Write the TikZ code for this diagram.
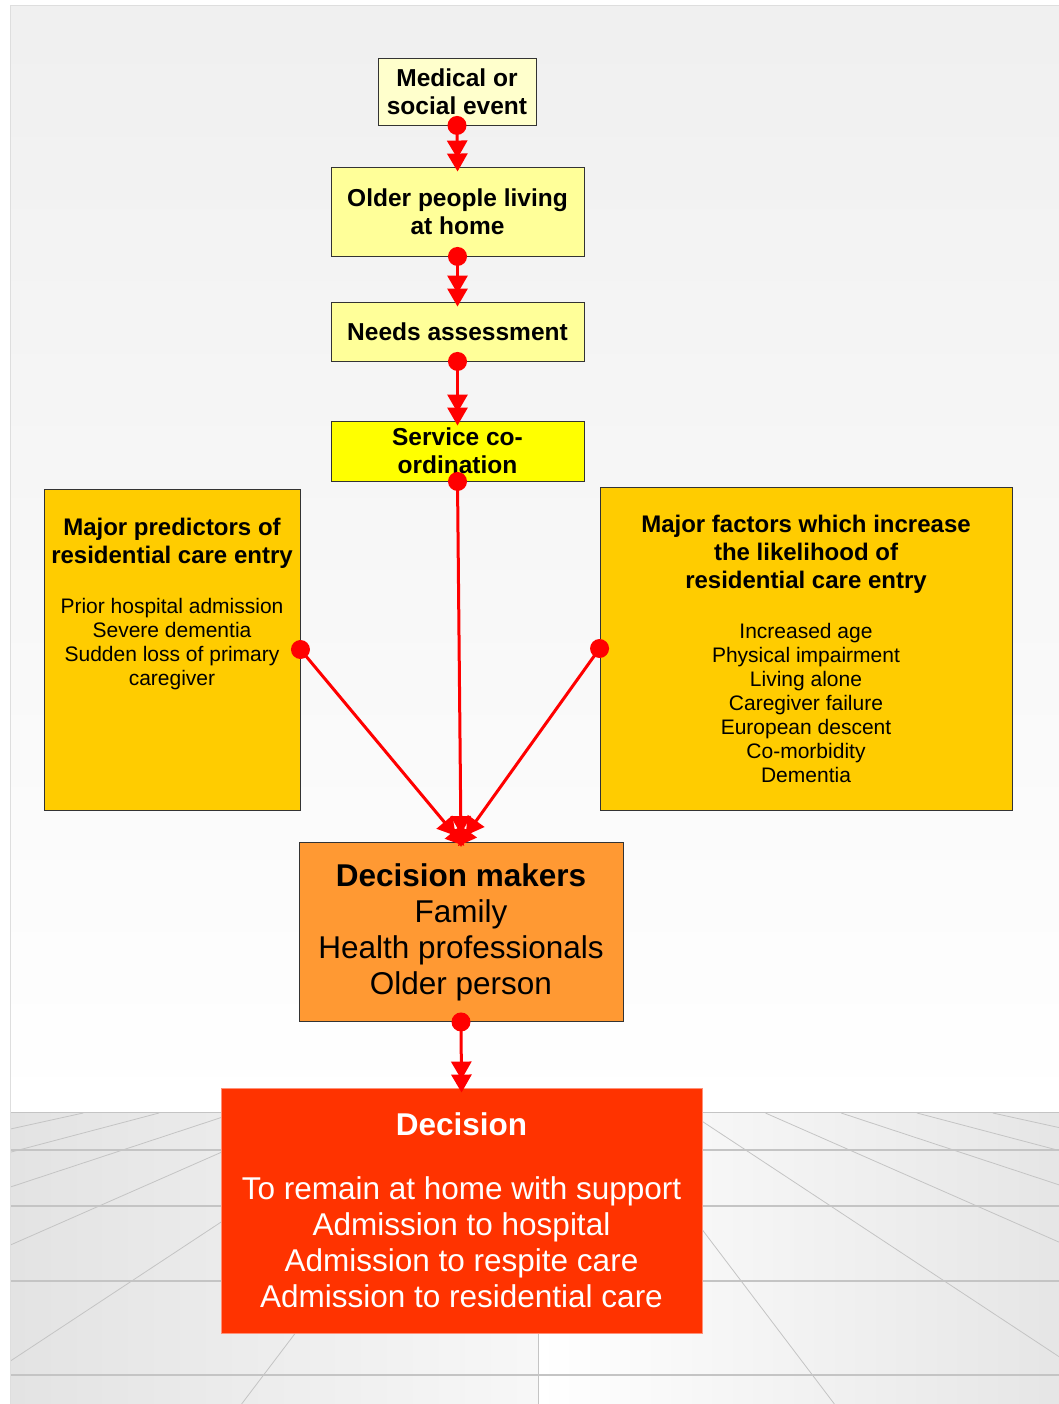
\documentclass[tikz,border=0pt]{standalone}
\usepackage{fontspec}
\setmainfont{Liberation Sans}
\usetikzlibrary{arrows.meta}
\definecolor{cream}{HTML}{FFFFCC}
\definecolor{paleyellow}{HTML}{FFFF99}
\definecolor{brightyellow}{HTML}{FFFF00}
\definecolor{gold}{HTML}{FFCC00}
\definecolor{tangerine}{HTML}{FF9933}
\definecolor{vermilion}{HTML}{FF3300}
\definecolor{salmonedge}{HTML}{FF9078}
\definecolor{linkred}{HTML}{FF0000}
\definecolor{gridgrey}{HTML}{C4C4C4}
% font size switch that also restores the font's own interword space
\newcommand{\boxfont}[2]{\fontsize{#1}{#2}\selectfont\spaceskip=0pt\xspaceskip=0pt\relax}
\begin{document}
\begin{tikzpicture}[x=1pt,y=-1pt,
  box/.style={draw=black!80, line width=0.9pt, inner sep=0pt, align=center, text=black},
  headfont/.style={font=\fontsize{24.5}{28}\selectfont\bfseries},
  bigfont/.style={font=\fontsize{31.5}{36}\selectfont},
  link/.style={draw=linkred, line width=3pt,
    -{Triangle[length=18pt,width=20pt,sep=-5pt] Triangle[length=18pt,width=20pt,sep=-5pt]}},
  dot/.style={fill=linkred},
  gridline/.style={draw=gridgrey, line width=0.8pt},
  floorline/.style={draw=gridgrey, line width=1.6pt}]
\useasboundingbox (0,0) rectangle (1059,1404);

% back wall
\shade[top color=black!6, bottom color=white] (10,6) rectangle (1059,1112);
% floor with perspective grid
\shade[left color=black!11, right color=black!3] (10,1112) rectangle (538,1404);
\shade[left color=white, right color=black!10] (538,1112) rectangle (1059,1404);
\begin{scope}
  \clip (10,1112) rectangle (1059,1404);
  \foreach \k in {-7,...,7}
    \draw[gridline] (538+\k*75.8,1113) -- (538+\k*296.4,1404);
  \foreach \yy in {1150,1206,1281,1375}
    \draw[floorline] (10,\yy) -- (1059,\yy);
\end{scope}
\draw[floorline] (10,1112.5) -- (1059,1112.5);
\draw[black!13, line width=1pt] (10,1404) -- (10,6) -- (1059,6);

% flow boxes
\node[box, fill=cream, headfont, minimum width=158pt, minimum height=67pt] (med) at (457,91.5)
  {Medical or\\social event};
\node[box, fill=paleyellow, headfont, minimum width=253pt, minimum height=89pt] (old) at (457.5,211.5)
  {Older people living\\at home};
\node[box, fill=paleyellow, headfont, minimum width=253pt, minimum height=59pt] (needs) at (457.5,331.5)
  {Needs assessment};
\node[box, fill=brightyellow, headfont, minimum width=253pt, minimum height=60pt] (serv) at (457.5,451)
  {Service co-\\ordination};

% factor boxes
\node[box, fill=gold, minimum width=256pt, minimum height=321pt] (pred) at (172,649.5) {};
\node[anchor=north, text width=256pt, align=flush center, inner sep=0pt] (predtext) at (172,518)
  {{\boxfont{24}{28}\bfseries Major predictors of\\residential care entry\par}\vspace{26pt}
   {\boxfont{21}{24}Prior hospital admission\\Severe dementia\\Sudden loss of primary\\caregiver\par}};
\node[box, align=flush center, fill=gold, text width=412pt, minimum height=323pt] (fact) at (806,648.5)
  {{\boxfont{24}{28}\bfseries Major factors which increase\\the likelihood of\\residential care entry\par}\vspace{26pt}
   {\boxfont{21}{24}Increased age\\Physical impairment\\Living alone\\Caregiver failure\\European descent\\Co-morbidity\\Dementia\par}};

% decision boxes
\node[box, fill=tangerine, bigfont, minimum width=324pt, minimum height=179pt] (dm) at (461,932)
  {\textbf{Decision makers}\\Family\\Health professionals\\Older person};
\node[box, align=flush center, draw=salmonedge, fill=vermilion, text=white, text width=481pt, minimum height=245pt] (dec) at (461.5,1210.5)
  {\boxfont{31.5}{36}{\bfseries Decision\par}\vspace{28pt}
   To remain at home with support\\Admission to hospital\\Admission to respite care\\Admission to residential care\par};

% connectors
\draw[link] (med.south) -- (old.north);
\draw[link] (old.south) -- (needs.north);
\draw[link] (needs.south) -- (serv.north);
\draw[link] (serv.south) -- (dm.north);
\draw[link] (pred.east) -- (dm.north);
\draw[link] (fact.west) -- (dm.north);
\draw[link] (dm.south) -- (dec.north);
\foreach \n/\a in {med/south, old/south, needs/south, serv/south, pred/east, fact/west, dm/south}
  \fill[dot] (\n.\a) circle[radius=9.5];
\end{tikzpicture}
\end{document}
